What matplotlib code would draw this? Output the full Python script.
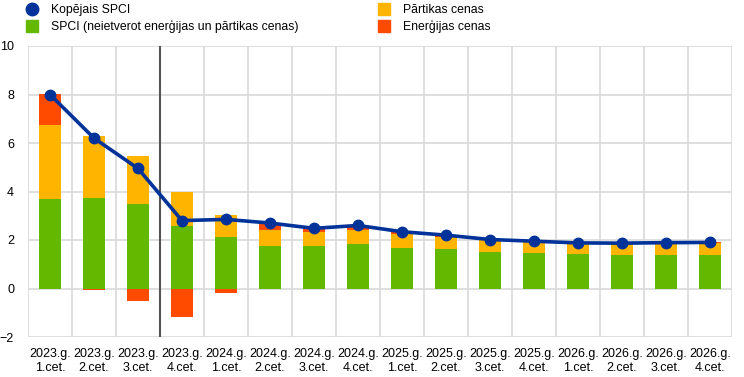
import matplotlib
matplotlib.use("Agg")
import matplotlib.pyplot as plt
from matplotlib.lines import Line2D
import numpy as np

plt.rcParams['font.family'] = ['Liberation Sans', 'DejaVu Sans']

categories = ["2023.g.\n1.cet.", "2023.g.\n2.cet.", "2023.g.\n3.cet.", "2023.g.\n4.cet.",
              "2024.g.\n1.cet.", "2024.g.\n2.cet.", "2024.g.\n3.cet.", "2024.g.\n4.cet.",
              "2025.g.\n1.cet.", "2025.g.\n2.cet.", "2025.g.\n3.cet.", "2025.g.\n4.cet.",
              "2026.g.\n1.cet.", "2026.g.\n2.cet.", "2026.g.\n3.cet.", "2026.g.\n4.cet."]
core = [3.68, 3.72, 3.47, 2.59, 2.13, 1.77, 1.76, 1.85, 1.68, 1.63, 1.51, 1.46, 1.42, 1.38, 1.38, 1.38]
food = [3.08, 2.56, 1.98, 1.38, 0.90, 0.65, 0.55, 0.57, 0.56, 0.48, 0.49, 0.46, 0.42, 0.44, 0.46, 0.50]
energy = [1.24, -0.08, -0.50, -1.17, -0.17, 0.25, 0.17, 0.17, 0.10, 0.06, 0.02, 0.02, -0.03, 0.02, 0.04, 0.02]
total = [8.0, 6.2, 4.95, 2.8, 2.85, 2.7, 2.48, 2.6, 2.34, 2.2, 2.02, 1.95, 1.88, 1.87, 1.89, 1.9]
legend_labels = ["Kopējais SPCI", "SPCI (neietverot enerģijas un pārtikas cenas)",
                 "Pārtikas cenas", "Enerģijas cenas"]

BLUE = "#003299"
GREEN = "#65B800"
YELLOW = "#FFB400"
RED = "#FF4B00"
GRID = "#D9D9D9"

fig = plt.figure(figsize=(7.44, 3.77), dpi=100)
ax = fig.add_axes([28/744, 1-337/377, (732-28)/744, (337-46)/377])

x = np.arange(len(categories))
core_a = np.array(core)
food_a = np.array(food)
en_a = np.array(energy)
w = 0.5

ax.bar(x, core_a, w, color=GREEN, zorder=2)
ax.bar(x, food_a, w, bottom=core_a, color=YELLOW, zorder=2)
en_bottom = np.where(en_a >= 0, core_a + food_a, 0)
ax.bar(x, en_a, w, bottom=en_bottom, color=RED, zorder=2)
ax.plot(x, total, color=BLUE, lw=2.6, marker='o', markersize=7.5, zorder=4)

ax.set_xlim(-0.5, len(categories) - 0.5)
ax.set_ylim(-2, 10)
ax.set_yticks(np.arange(-2, 11, 2))
ax.set_xticks(x)
ax.set_xticklabels(categories, fontsize=9, linespacing=1.25)
ax.set_xticks(np.arange(-0.5, len(categories), 1), minor=True)
ax.grid(True, which='minor', axis='x', color=GRID, lw=1.2, zorder=0)
ax.grid(True, which='major', axis='y', color=GRID, lw=1.2, zorder=0)
ax.tick_params(axis='both', which='both', length=0)
ax.tick_params(axis='x', pad=8)
ax.tick_params(axis='y', pad=10, labelsize=9)
for s in ax.spines.values():
    s.set_visible(False)
ax.axvline(2.5, color="#555555", lw=1.5, zorder=3)

h1 = [Line2D([], [], marker='o', ls='none', color=BLUE, markersize=9),
      Line2D([], [], marker='s', ls='none', color=GREEN, markersize=9)]
h2 = [Line2D([], [], marker='s', ls='none', color=YELLOW, markersize=9),
      Line2D([], [], marker='s', ls='none', color=RED, markersize=9)]
fig.legend(h1, legend_labels[:2], loc='upper left', bbox_to_anchor=(20/744, 1.005),
           frameon=False, fontsize=8.8, borderpad=0.0, handlelength=1.0,
           handletextpad=1.0, labelspacing=0.3)
fig.legend(h2, legend_labels[2:], loc='upper left', bbox_to_anchor=(372/744, 1.005),
           frameon=False, fontsize=8.8, borderpad=0.0, handlelength=1.0,
           handletextpad=1.0, labelspacing=0.3)

fig.savefig("out.png", dpi=100)
